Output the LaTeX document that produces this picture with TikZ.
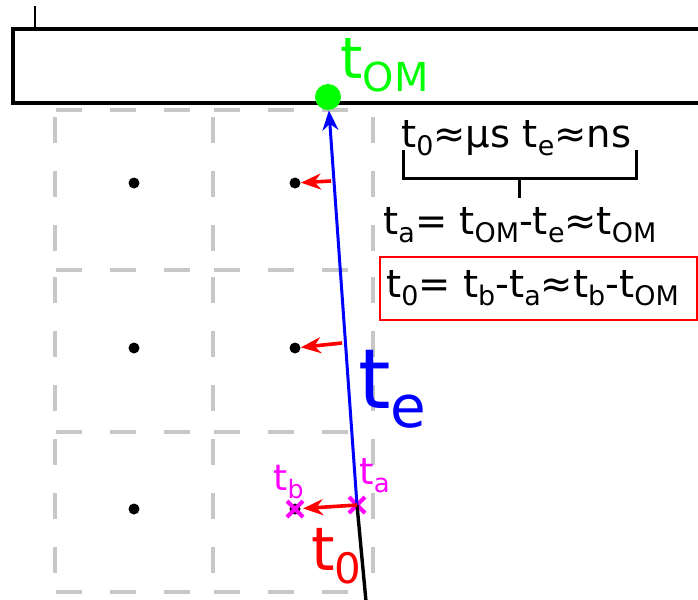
\documentclass[tikz,border=0pt]{standalone}
\usepackage{fontspec}
\setmainfont{DejaVu Sans}
\usepackage{graphicx}
\usepackage{tikz}
\usetikzlibrary{positioning, shapes.misc, arrows.meta}

\definecolor{hitmagenta}{RGB}{255,0,255}
\newcommand{\lo}[1]{\raisebox{-0.23em}{\scalebox{0.7}{#1}}}

\begin{document}
\begin{tikzpicture}[
        x=0.5pt, y=-0.5pt,
        dot/.style={
            circle,
            fill=black,
            inner sep=0pt,
            minimum size=5.5pt
        },
        cell/.style={
            draw=black!22,
            line width=2pt,
            dash pattern=on 13pt off 14pt
        },
        pull/.style={
            -{Stealth[length=10pt, width=8pt]},
            red,
            line width=1.8pt
        },
        hit/.style={
            cross out,
            draw=hitmagenta,
            line width=2pt,
            inner sep=0pt,
            minimum size=6pt
        },
        eqn/.style={
            anchor=base west,
            inner sep=0pt,
            font=\fontsize{19.25}{23}\selectfont
        }
    ]
    \useasboundingbox (0,0) rectangle (698,600);

    % Detector grid
    \foreach \x in {55,213,373}
        \foreach \y in {110,270,432}
            \draw[cell, dash phase=23.5pt] (\x,\y) -- (\x,\y+160);
    \foreach \y in {110,270,432,592}
        \foreach \x in {55,213}
            \draw[cell, dash phase=26.5pt] (\x,\y) -- (\x+158,\y);

    % Sensors
    \foreach \r/\y in {1/183, 2/348, 3/509}
        \foreach \c/\x in {1/134, 2/295}
            \node[dot] (d\r\c) at (\x,\y) {};

    % Optical module
    \draw[line width=2pt] (13,29) rectangle (720,103);
    \draw[line width=1.2pt] (35,29) -- (35,6);
    \node[circle, fill=green, inner sep=0pt, minimum size=13pt] (om) at (328,97) {};
    \node[anchor=base west, inner sep=0pt, text=green, font=\fontsize{28.5}{30}\selectfont] (omlabel) at (340,78) {t\lo{OM}};

    % Hits
    \node[hit] (ta) at (357,505) {};
    \node[hit] (tb) at (d32) {};
    \node[anchor=base west, inner sep=0pt, text=hitmagenta, font=\fontsize{18.5}{20}\selectfont] (talabel) at (359,484) {t\lo{a}};
    \node[anchor=base west, inner sep=0pt, text=hitmagenta, font=\fontsize{18}{20}\selectfont] (tblabel) at (273,490) {t\lo{b}};
    \coordinate (trackend) at (367,612);
    \coordinate (hit1) at (331,181);
    \coordinate (hit2) at (342,343);

    % Track and light
    \draw[line width=1.7pt] (ta.center) -- (trackend);
    \draw[blue, line width=1.5pt, -{Stealth[length=10pt, width=8pt]}] (ta.center) -- (om);
    \draw[pull] (hit1) -- (d12);
    \draw[pull] (hit2) -- (d22);
    \draw[pull] (ta.center) -- (tb);
    \node[anchor=base west, inner sep=0pt, text=blue, font=\fontsize{41.5}{44}\selectfont] (telabel) at (358,408) {t\lo{e}};
    \node[anchor=base west, inner sep=0pt, text=red, font=\fontsize{30}{32}\selectfont] (tolabel) at (311,570) {t\lo{0}};

    % Time relations
    \node[eqn] (scales) at (401,147) {t\lo{0}≈μs t\lo{e}≈ns};
    \draw[line width=1.5pt] (403,150) -- (403,178) -- (636,178) -- (636,150);
    \draw[line width=1.5pt] (519,178) -- (519,198);
    \node[eqn] (arrival) at (383,234) {t\lo{a}= t\lo{OM}-t\lo{e}≈t\lo{OM}};
    \node[eqn] (result) at (386,297) {t\lo{0}= t\lo{b}-t\lo{a}≈t\lo{b}-t\lo{OM}};
    \draw[red, line width=1.3pt] (380,257) rectangle (697,320);

\end{tikzpicture}
\end{document}
